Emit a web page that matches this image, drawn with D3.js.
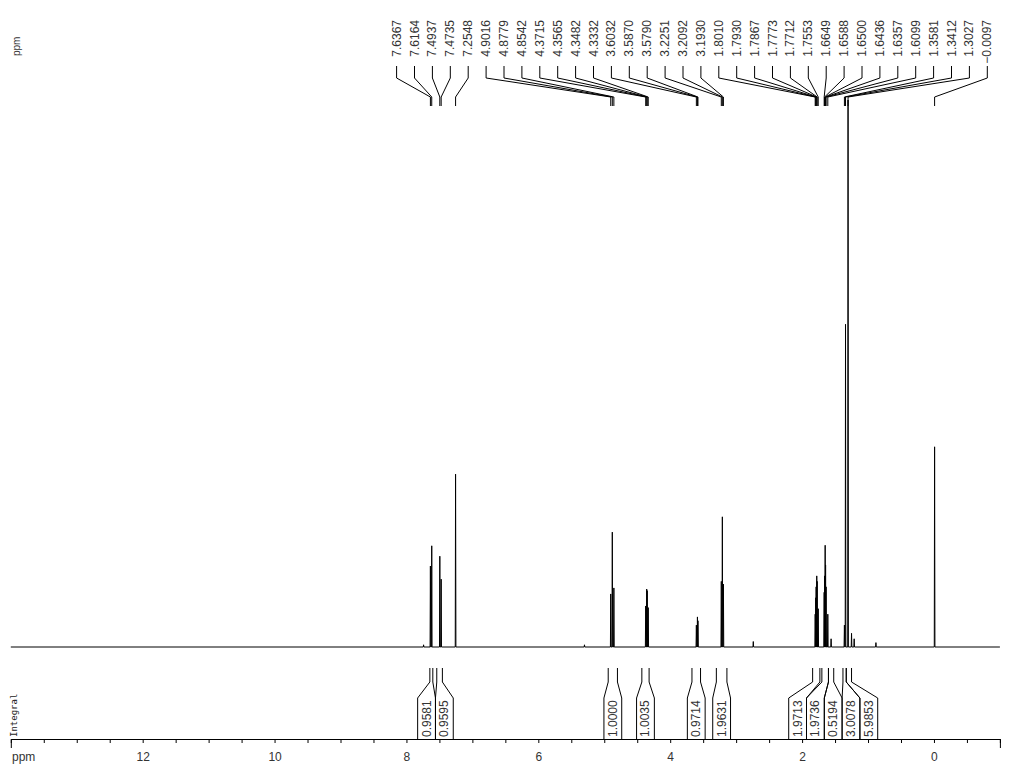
<!DOCTYPE html>
<html><head><meta charset="utf-8">
<script src="https://cdn.jsdelivr.net/npm/d3@7"></script>
<style>
html,body{margin:0;padding:0;background:#fff;}
svg{display:block;}
text{font-family:"Liberation Sans",Arial,sans-serif;fill:#333;}
</style></head>
<body>
<svg id="c" width="1024" height="768"></svg>
<script>
// ---- data ----
const peakPpm = [7.6367,7.6164,7.4937,7.4735,7.2548,4.9016,4.8779,4.8542,4.3715,4.3565,4.3482,4.3332,
  3.6032,3.5870,3.5790,3.2251,3.2092,3.1930,1.8010,1.7930,1.7867,1.7773,1.7712,1.7553,
  1.6649,1.6588,1.6500,1.6436,1.6357,1.6099,1.3581,1.3412,1.3027,-0.0097];
const peakInt = [14.8,18.5,16.6,12.4,31.6,9.7,21.0,10.8,7.5,10.6,10.3,7.2,
  4.0,5.5,4.8,12.0,23.8,11.5,6,9,11,13,12,7,
  10,13,18.6,15,11,6,4,59,100,36.6];
const minorPpm = [7.74,5.30,2.74,1.56,1.25,1.21,0.88];
const minorInt = [0.4,0.4,1.0,1.5,2.5,1.5,0.8];
const integralStart = [7.645,7.54,4.94,4.43,3.67,3.30,1.84,1.70,1.60,1.38,1.33];
const integralEnd   = [7.600,7.455,4.80,4.32,3.54,3.14,1.73,1.60,1.52,1.33,1.25];
const integralValue = ["0.9581","0.9595","1.0000","1.0035","0.9714","1.9631","1.9713","1.9736","0.5194","3.0078","5.9853"];
const axisLabels = [12,10,8,6,4,2,0];

// ---- scales ----
const svg = d3.select("#c");
const x = d3.scaleLinear().domain([14,-1]).range([10.8,999.9]);
const y = d3.scaleLinear().domain([0,100]).range([647,100]);

// ---- spectrum ----
const hw = 0.005;
const allPeaks = peakPpm.map((p,i)=>({p,h:peakInt[i]})).concat(minorPpm.map((p,i)=>({p,h:minorInt[i]})))
  .sort((a,b)=>b.p-a.p);
const pts = [[14,0]];
allPeaks.forEach(d=>{ pts.push([d.p+hw,0]); pts.push([d.p,d.h]); pts.push([d.p-hw,0]); });
pts.push([-1,0]);
svg.append("path").attr("d", d3.line().x(d=>x(d[0])).y(d=>y(d[1]))(pts))
  .attr("fill","none").attr("stroke","#000").attr("stroke-width",1);

// ---- peak labels ----
const labX0 = 396.6, labStep = 17.9;
const lab = svg.append("g");
peakPpm.forEach((p,i)=>{
  const lx = labX0 + i*labStep, px = x(p);
  lab.append("text").attr("transform",`translate(${lx},20) rotate(-90)`)
    .attr("text-anchor","end").attr("dominant-baseline","central")
    .style("font-size","12px").text(d3.format(".4f")(p));
  lab.append("path").attr("d",`M${lx},66 V78 L${px},97 V106`)
    .attr("fill","none").attr("stroke","#000").attr("stroke-width",1);
});

// ---- axis ----
const ax = svg.append("g").attr("transform","translate(0,739)")
  .call(d3.axisBottom(x).tickValues(d3.range(-1,14.001,0.5)).tickSize(4).tickSizeOuter(9).tickPadding(9)
    .tickFormat(d=>axisLabels.includes(d)?String(d):""));
ax.selectAll("text").style("font-size","12px").style("font-family","Liberation Sans, Arial, sans-serif").attr("fill","#333");
ax.selectAll("line,path").attr("stroke","#000");
svg.append("text").attr("x",12).attr("y",761).style("font-size","12px").text("ppm");

// ---- integrals ----
const bw = 17.8;
let boxes = integralStart.map((s,i)=>({i, c:(x(s)+x(integralEnd[i]))/2}));
let clusters = boxes.map(b=>({m:[b], c:b.c}));
let changed = true;
while(changed){
  changed=false;
  for(let k=0;k<clusters.length-1;k++){
    const a=clusters[k], b=clusters[k+1];
    if(a.c + a.m.length*bw/2 > b.c - b.m.length*bw/2){
      const m=a.m.concat(b.m);
      clusters.splice(k,2,{m, c:d3.mean(m,d=>d.c)});
      changed=true; break;
    }
  }
}
const ig = svg.append("g");
clusters.forEach(cl=>{
  const left = cl.c - cl.m.length*bw/2;
  cl.m.forEach((b,j)=>{
    const bl = left + j*bw, br = bl + bw;
    const xs = x(integralStart[b.i]), xe = x(integralEnd[b.i]);
    ig.append("path").attr("d",`M${xs},668 V682 L${bl},698 V739 M${xe},668 V682 L${br},698 V739`)
      .attr("fill","none").attr("stroke","#000").attr("stroke-width",1);
    ig.append("text").attr("transform",`translate(${(bl+br)/2},737) rotate(-90)`)
      .attr("text-anchor","start").attr("dominant-baseline","central")
      .style("font-size","12px").text(integralValue[b.i]);
  });
});

// ---- side labels ----
svg.append("text").attr("transform","translate(16,56) rotate(-90)").attr("dominant-baseline","central")
  .style("font-size","10px").text("ppm");
svg.append("text").attr("transform","translate(14,737) rotate(-90)").attr("dominant-baseline","central")
  .style("font-size","9px").style("font-family","DejaVu Sans Mono, monospace").style("fill","#222").text("Integral");
</script>
</body></html>
